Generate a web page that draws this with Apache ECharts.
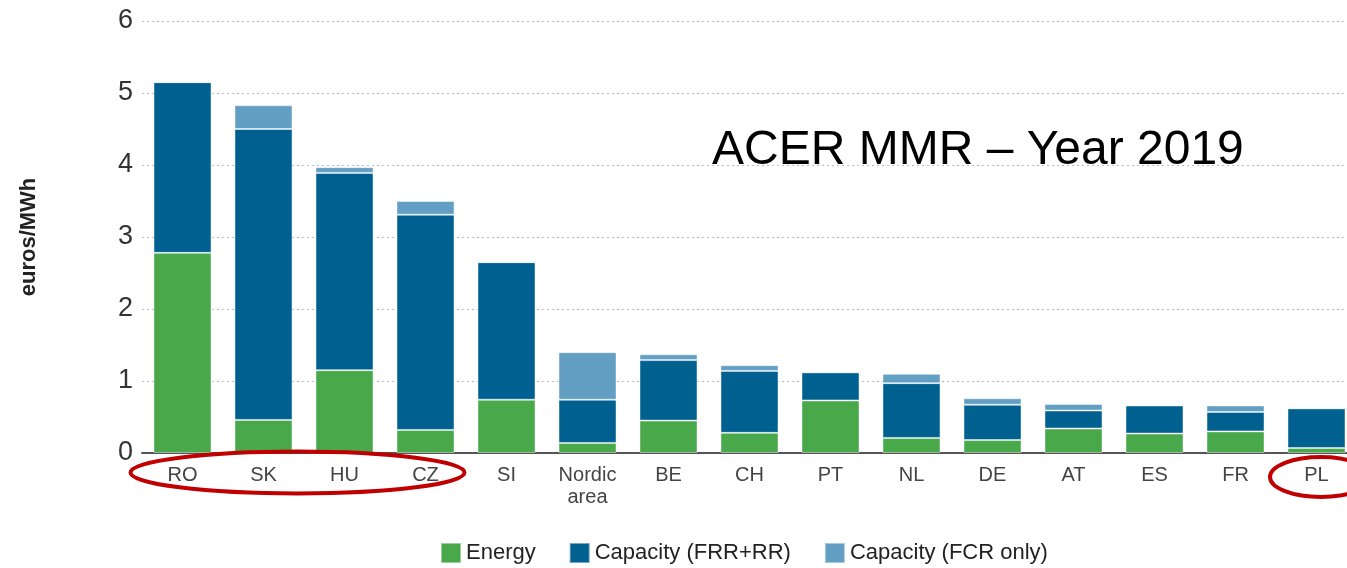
<!DOCTYPE html>
<html>
<head>
  <meta charset="utf-8">
  <title>Balancing costs</title>
  <script src="https://cdn.jsdelivr.net/npm/echarts@6/dist/echarts.min.js"></script>
</head>
<body style="margin:0;overflow:hidden">
  <!-- plot area runs a little past the right edge of the window, as in the source picture -->
  <div id="main" style="width:1357px;height:568px;"></div>
  <script type="text/javascript">
    var countries = ['RO', 'SK', 'HU', 'CZ', 'SI', 'Nordic\narea', 'BE', 'CH', 'PT', 'NL', 'DE', 'AT', 'ES', 'FR', 'PL'];
    var energy   = [2.78, 0.46, 1.15, 0.32, 0.74, 0.14, 0.45, 0.28, 0.73, 0.21, 0.18, 0.34, 0.27, 0.30, 0.07];
    var capFrrRr = [2.37, 4.04, 2.74, 2.99, 1.91, 0.60, 0.84, 0.86, 0.39, 0.76, 0.49, 0.25, 0.39, 0.27, 0.55];
    var capFcr   = [0, 0.33, 0.08, 0.19, 0, 0.66, 0.08, 0.08, 0, 0.13, 0.09, 0.09, 0, 0.09, 0];
    var yTicks = [0, 1, 2, 3, 4, 5, 6];

    var sans = "'Liberation Sans', Arial, sans-serif";
    var myChart = echarts.init(document.getElementById('main'));

    function barSeries(name, data, color) {
      return {
        name: name,
        type: 'bar',
        stack: 'total',
        barWidth: 58,
        data: data,
        itemStyle: { color: color, borderColor: 'rgba(255,255,255,0.45)', borderWidth: 1 }
      };
    }

    var option = {
      animation: false,
      grid: { left: 142, right: 0, top: 21, bottom: 115 },
      xAxis: {
        type: 'category',
        data: countries,
        axisTick: { show: false },
        axisLine: { lineStyle: { color: '#555', width: 2 } },
        axisLabel: { color: '#444', fontSize: 20, fontFamily: sans, margin: 11, lineHeight: 22 }
      },
      yAxis: {
        type: 'value',
        min: yTicks[0],
        max: yTicks[yTicks.length - 1],
        interval: 1,
        name: 'euros/MWh',
        nameLocation: 'middle',
        nameRotate: 90,
        nameGap: 102,
        nameTextStyle: { color: '#222', fontSize: 22, fontWeight: 'bold', fontFamily: sans },
        axisLine: { show: false },
        axisTick: { show: false },
        axisLabel: { color: '#333', fontSize: 27, fontFamily: sans, margin: 9 },
        splitLine: { lineStyle: { color: '#bbb', type: [2, 3], width: 1 } }
      },
      legend: {
        top: 537,
        left: 435,
        itemWidth: 20,
        itemHeight: 20,
        itemGap: 33,
        icon: 'rect',
        textStyle: { color: '#222', fontSize: 22, fontFamily: sans },
        data: ['Energy', 'Capacity (FRR+RR)', 'Capacity (FCR only)']
      },
      graphic: [
        {
          type: 'text', left: 712, top: 127,
          style: { text: 'ACER MMR – Year 2019', fontSize: 48, fill: '#000', fontFamily: sans }
        },
        {
          type: 'ellipse', z: 100,
          shape: { cx: 297.5, cy: 472.5, rx: 167, ry: 21 },
          style: { fill: 'none', stroke: '#c00000', lineWidth: 4 }
        },
        {
          type: 'ellipse', z: 100,
          shape: { cx: 1321, cy: 477, rx: 51, ry: 20 },
          style: { fill: 'none', stroke: '#c00000', lineWidth: 4 }
        }
      ],
      series: [
        barSeries('Energy', energy, '#48a84a'),
        barSeries('Capacity (FRR+RR)', capFrrRr, '#006090'),
        barSeries('Capacity (FCR only)', capFcr, '#629fc3')
      ]
    };

    myChart.setOption(option);
  </script>
</body>
</html>
